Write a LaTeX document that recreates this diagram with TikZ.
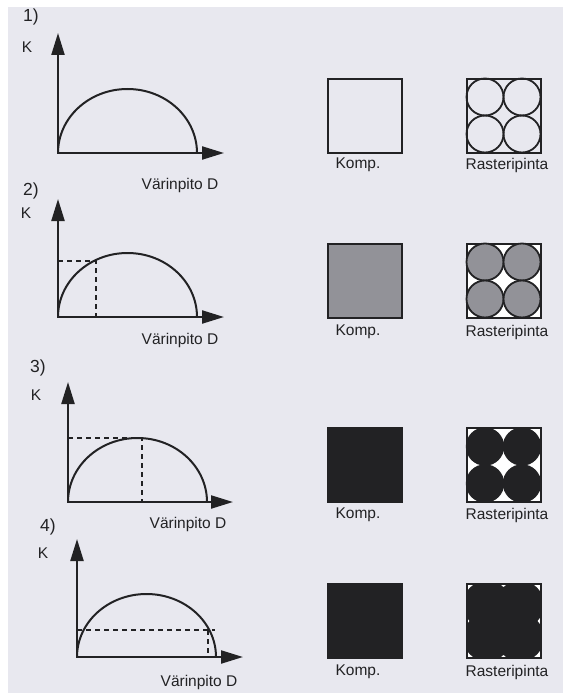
\documentclass[tikz,border=0pt]{standalone}
\usepackage{fontspec}
\setmainfont{Liberation Sans}
\usetikzlibrary{arrows.meta}
\definecolor{paper}{RGB}{232,232,239}
\definecolor{ink}{RGB}{34,34,36}
\definecolor{midgray}{RGB}{146,146,152}
\definecolor{lightgray}{RGB}{184,184,190}
\tikzset{
	axis/.style = {ink, line width = 2.2pt, {Triangle[length = 22pt, width = 13pt]}-{Triangle[length = 22pt, width = 13pt]}},
	curve/.style = {ink, line width = 2pt},
	guide/.style = {ink, line width = 1.6pt, dash pattern = on 5pt off 4pt},
	box/.style = {draw = ink, line width = 2pt, minimum size = 74pt, inner sep = 0pt, outer sep = 0pt},
	dot/.style = {draw = ink, line width = 1.8pt},
	txt/.style = {text = ink, font = \fontsize{15.5}{18}\selectfont, inner sep = 0pt},
	num/.style = {text = ink, font = \fontsize{17.5}{20}\selectfont, inner sep = 0pt}
}
\begin{document}
\begin{tikzpicture}[x = 1pt, y = -1pt]
	\useasboundingbox (0,0) rectangle (563,693);
	\fill [white] (0,0) rectangle (563,693);
	\fill [paper] (8,7) rectangle (563,693);

	% 1)
	\node (nr1) [num] at (31,17) {1)};
	\coordinate (o1) at (58,153);
	\coordinate (k1) at (58,33);
	\coordinate (d1) at (224,153);
	\draw [axis] (k1) -- (o1) -- (d1);
	\draw [curve] (o1) arc [start angle = 180, end angle = 360, x radius = 69.5, y radius = 64];
	\node (K1) [txt] at (27,47) {K};
	\node (D1) [txt] at (180,185) {Värinpito D};
	\node (komp1) [box] at (364.5,115.5) {};
	\node (raster1) [box] at (503.5,115.5) {};
	\foreach \x in {-18.5,18.5}
		\foreach \y in {-18.5,18.5}
			\draw [dot] (raster1.center) ++(\x,\y) circle [radius = 18.5];
	\node (kl1) [txt] at (358,165) {Komp.};
	\node (rl1) [txt] at (507,165) {Rasteripinta};

	% 2)
	\node (nr2) [num] at (31,191) {2)};
	\coordinate (o2) at (58,317);
	\coordinate (k2) at (58,199);
	\coordinate (d2) at (224,317);
	\coordinate (p2) at (96,261);
	\draw [guide] (p2 -| o2) -- (p2) -- (p2 |- o2);
	\draw [axis] (k2) -- (o2) -- (d2);
	\draw [curve] (o2) arc [start angle = 180, end angle = 360, x radius = 69.5, y radius = 64];
	\node (K2) [txt] at (26,213) {K};
	\node (D2) [txt] at (180,340) {Värinpito D};
	\node (komp2) [box, left color = midgray, middle color = lightgray, right color = midgray] at (364.5,280.5) {};
	\node (raster2) [box, fill = white] at (503.5,280.5) {};
	\foreach \x in {-18.5,18.5}
		\foreach \y in {-18.5,18.5}
			\draw [dot, fill = midgray] (raster2.center) ++(\x,\y) circle [radius = 18.5];
	\node (kl2) [txt] at (358,332) {Komp.};
	\node (rl2) [txt] at (507,332) {Rasteripinta};

	% 3)
	\node (nr3) [num] at (38,368) {3)};
	\coordinate (o3) at (68,502);
	\coordinate (k3) at (68,382);
	\coordinate (d3) at (233,502);
	\coordinate (p3) at (142,438);
	\draw [guide] (p3 -| o3) -- (p3) -- (p3 |- o3);
	\draw [axis] (k3) -- (o3) -- (d3);
	\draw [curve] (o3) arc [start angle = 180, end angle = 360, x radius = 69.5, y radius = 64];
	\node (K3) [txt] at (36,395) {K};
	\node (D3) [txt] at (188,524) {Värinpito D};
	\node (komp3) [box, fill = ink] at (365,465) {};
	\node (raster3) [box, fill = white] at (503.5,465) {};
	\foreach \x in {-18.5,18.5}
		\foreach \y in {-18.5,18.5}
			\fill [ink] (raster3.center) ++(\x,\y) circle [radius = 19.2];
	\draw [ink, line width = 2pt] (raster3.south west) rectangle (raster3.north east);
	\node (kl3) [txt] at (358,515) {Komp.};
	\node (rl3) [txt] at (507,515) {Rasteripinta};

	% 4)
	\node (nr4) [num] at (48,527) {4)};
	\coordinate (o4) at (77,657);
	\coordinate (k4) at (77,539);
	\coordinate (d4) at (243,657);
	\coordinate (p4) at (208,630);
	\draw [guide] (p4 -| o4) -- ++(138,0);
	\draw [guide] (p4) -- (p4 |- o4);
	\draw [axis] (k4) -- (o4) -- (d4);
	\draw [curve] (o4) arc [start angle = 180, end angle = 360, x radius = 69.5, y radius = 63];
	\node (K4) [txt] at (43,553) {K};
	\node (D4) [txt] at (199,682) {Värinpito D};
	\node (komp4) [box, fill = ink] at (364.5,621) {};
	\node (raster4) [box, fill = white] at (503.5,621) {};
	\begin{scope}
		\clip (raster4.south west) rectangle (raster4.north east);
		\foreach \x in {-16.5,16.5}
			\foreach \y in {-16.5,16.5}
				\fill [ink] (raster4.center) ++(\x,\y) circle [radius = 24];
	\end{scope}
	\draw [ink, line width = 2pt] (raster4.south west) rectangle (raster4.north east);
	\node (kl4) [txt] at (358,672) {Komp.};
	\node (rl4) [txt] at (507,672) {Rasteripinta};
\end{tikzpicture}
\end{document}
